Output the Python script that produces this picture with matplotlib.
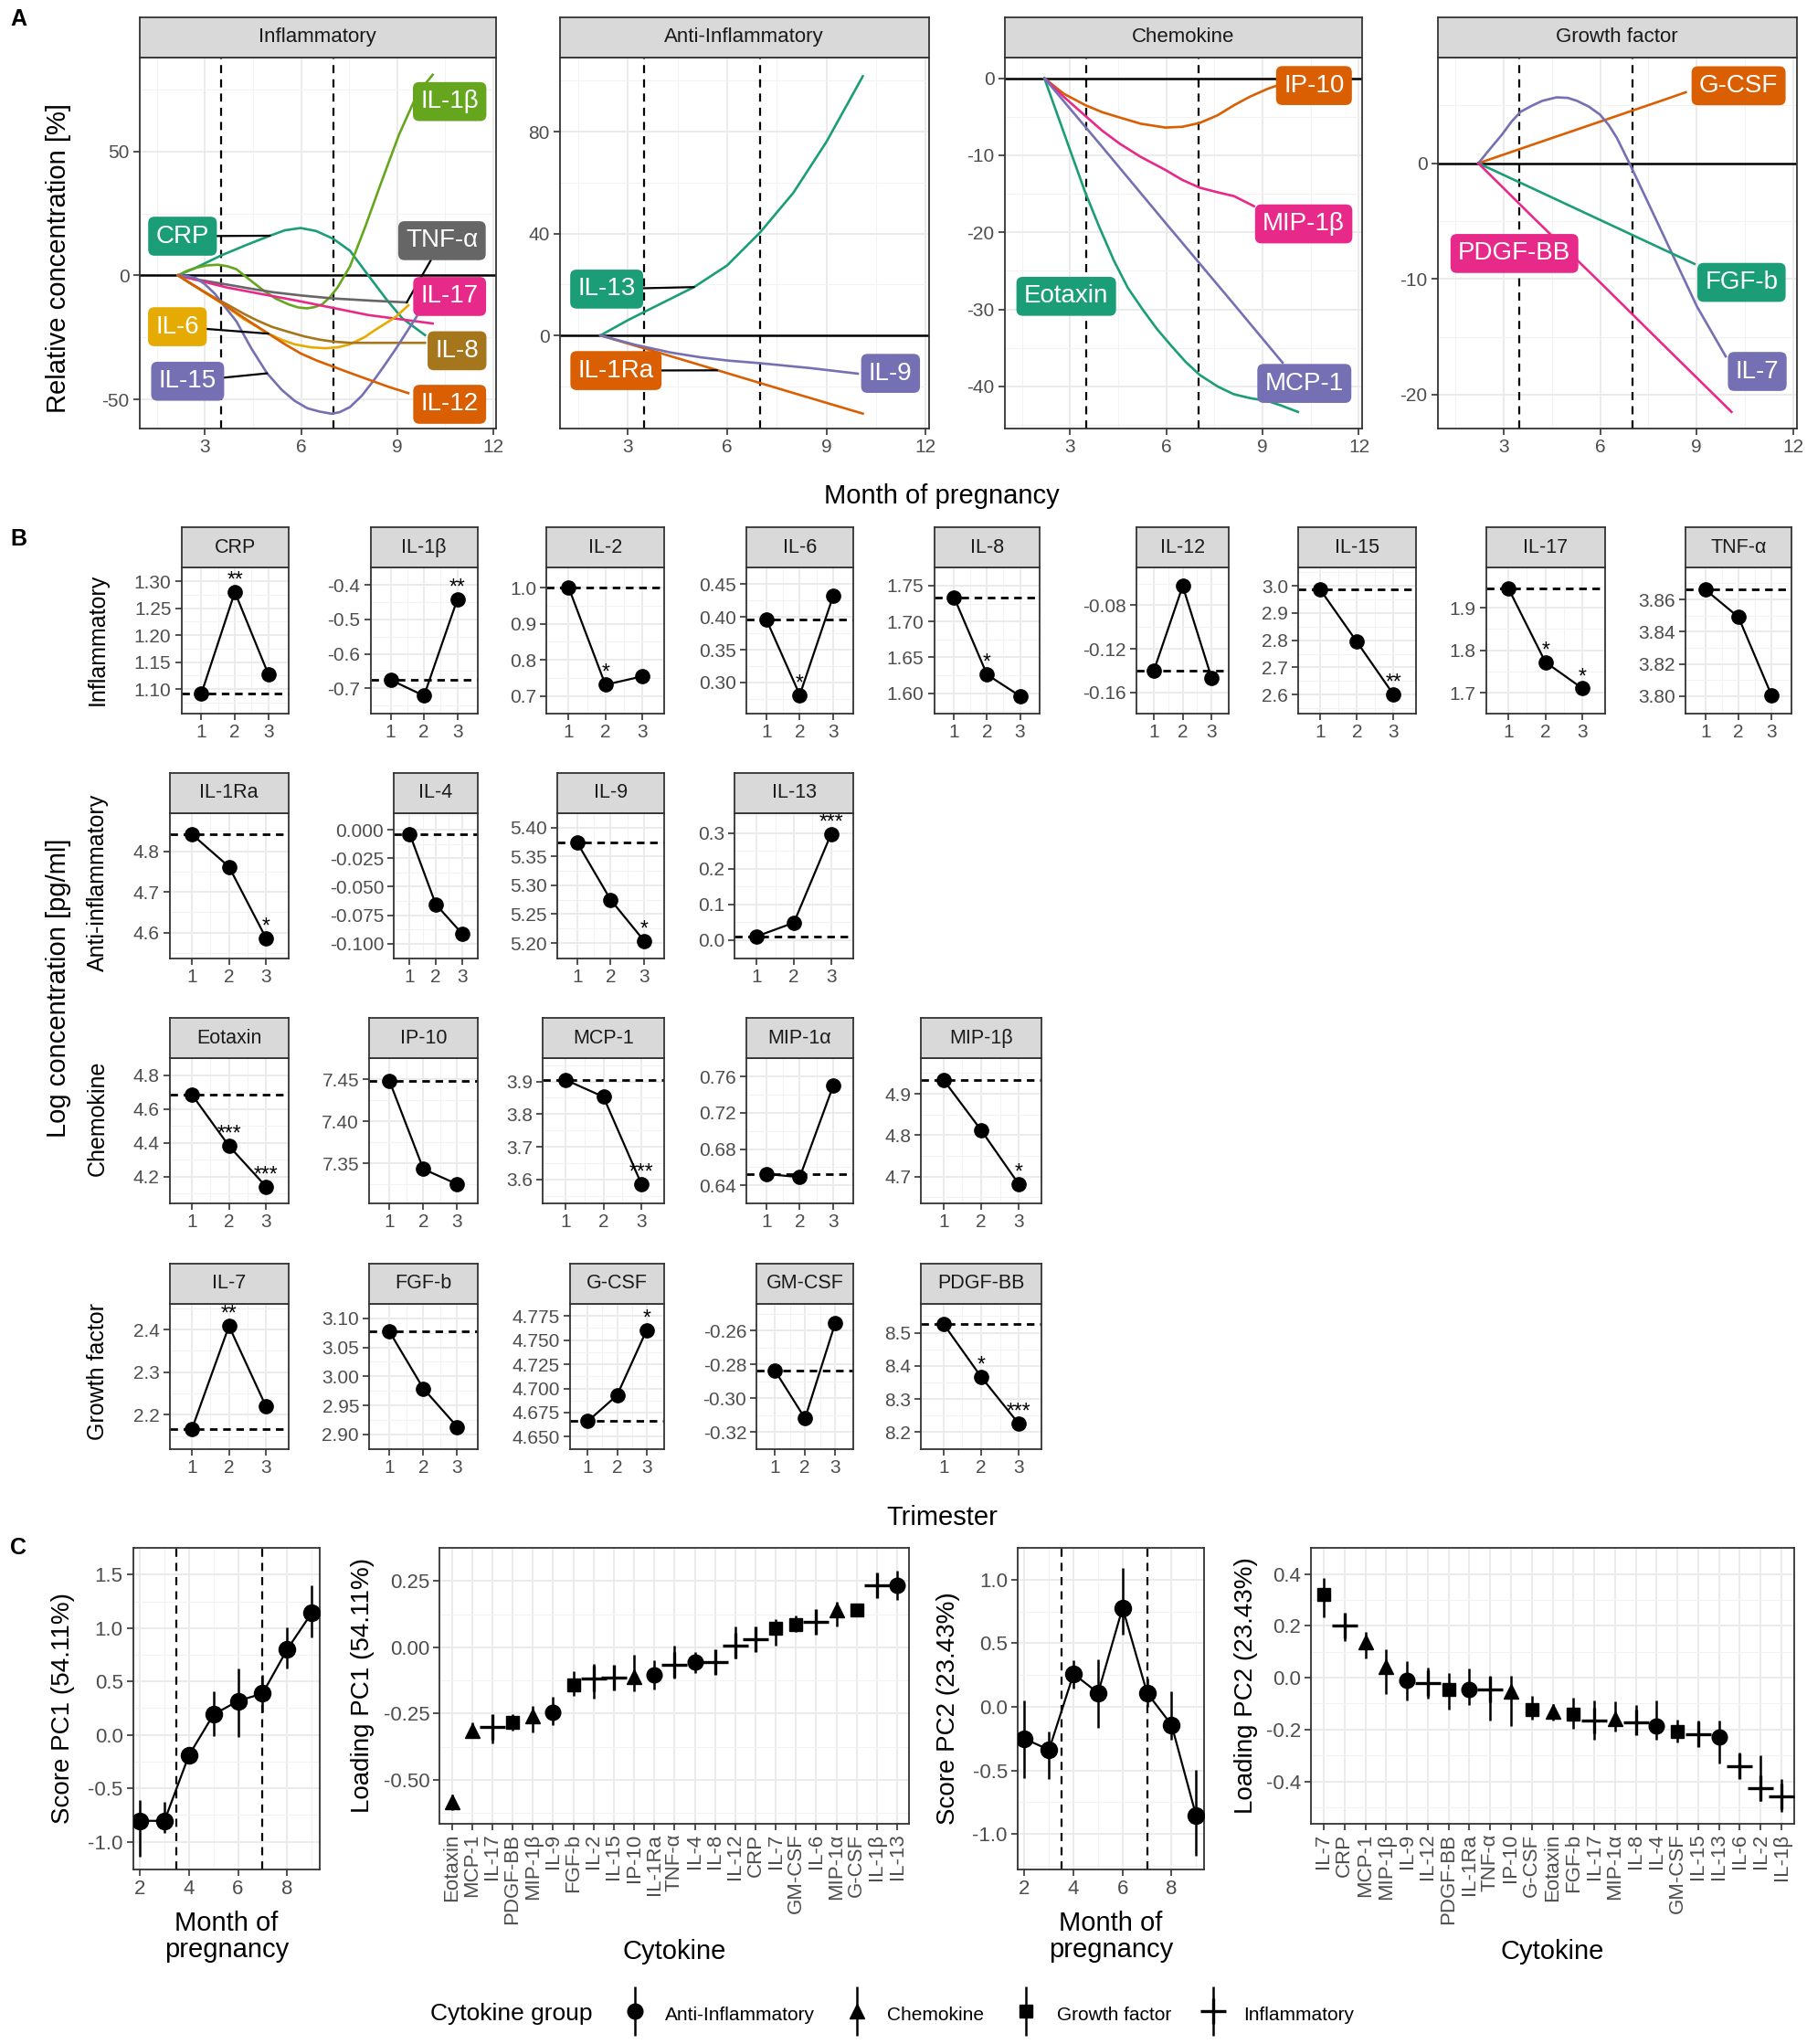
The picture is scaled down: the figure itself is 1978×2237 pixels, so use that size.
import matplotlib
matplotlib.use('Agg')
import matplotlib.pyplot as plt
from matplotlib.container import ErrorbarContainer
from matplotlib.legend_handler import HandlerErrorbar
import numpy as np

W, H = 1385.0, 1566.0
NARROW = ['Liberation Sans Narrow', 'Liberation Sans', 'DejaVu Sans']
WIDE = ['Liberation Sans', 'DejaVu Sans']
plt.rcParams['font.family'] = NARROW
plt.rcParams['axes.unicode_minus'] = False

TEAL, ORANGE, PURPLE, PINK = '#1B9E77', '#D95F02', '#7570B3', '#E7298A'
GREEN, YELLOW, BROWN, GREY = '#66A61E', '#E6AB02', '#A6761D', '#666666'
BORDER, TICKC = '#333333', '#4D4D4D'

# ---------------- panel A: smoothed relative concentration (%) ----------------
crp_m = [2.16, 2.7, 3.5, 4.3, 5.03, 5.5, 5.99, 6.47, 7.0, 7.53, 8.1, 8.68, 9.16, 9.87]
crp_v = [0, 3.0, 8.0, 12.3, 16.0, 18.2, 19.1, 17.9, 14.8, 9.9, 0, -9.9, -17.3, -24.1]
il1b_m = [2.16, 2.45, 2.73, 3.05, 3.4, 3.7, 3.98, 4.4, 4.84, 5.2, 5.61, 5.9, 6.18, 6.42, 6.66, 6.9,
          7.14, 7.53, 8.01, 8.49, 9.06, 9.64, 10.11]
il1b_v = [0, 1.9, 3.1, 4.0, 4.3, 3.7, 2.5, -1.8, -6.2, -9.3, -11.7, -12.9, -13.3, -12.8, -11.7, -8.8,
          -4.9, 3.7, 19.8, 37.0, 56.8, 73.5, 80.9]
tnfa_m = [2.16, 2.9, 3.69, 4.4, 5.13, 6.0, 7.0, 8.2, 9.3]
tnfa_v = [0, -2.0, -3.7, -5.3, -6.8, -8.1, -9.3, -10.2, -10.9]
il17_m = [2.16, 3.69, 5.99, 8.1, 10.11]
il17_v = [0, -4.9, -10.5, -16.0, -19.4]
il8_m = [2.16, 2.5, 2.92, 3.3, 3.69, 4.2, 4.65, 5.1, 5.61, 6.1, 6.57, 7.0, 7.53, 8.0, 9.87]
il8_v = [0, -2.9, -6.2, -9.0, -11.7, -15.4, -18.3, -20.8, -22.8, -24.6, -25.9, -26.7, -27.2, -27.2, -27.2]
il6_m = [2.16, 2.8, 3.5, 4.2, 4.98, 5.4, 5.8, 6.3, 6.76, 7.15, 7.53, 8.0, 8.29, 8.65, 8.96, 9.35]
il6_v = [0, -5.3, -11.1, -17.5, -23.5, -26.0, -27.8, -29.0, -29.4, -29.0, -27.8, -24.8, -22.2, -19.3,
         -16.7, -12.1]
il12_m = [2.16, 2.8, 3.5, 4.2, 4.98, 5.5, 5.99, 6.5, 7.0, 7.5, 8.1, 8.7, 9.35]
il12_v = [0, -5.2, -10.9, -17.0, -23.5, -27.8, -31.5, -34.4, -36.8, -39.2, -42.0, -44.8, -47.5]
il15_m = [2.16, 2.45, 2.73, 3.0, 3.31, 3.6, 3.98, 4.45, 4.94, 5.4, 5.8, 6.2, 6.57, 6.95, 7.2, 7.53,
          7.9, 8.29, 8.6, 8.96, 9.3, 9.64]
il15_v = [0, -0.3, -1.2, -3.6, -7.4, -12.3, -18.5, -29.5, -39.5, -46.2, -50.6, -53.6, -54.9, -55.8,
          -55.2, -53.1, -48.5, -42.0, -36.4, -29.6, -22.8, -16.0]

il13_m = [2.17, 3.0, 4.0, 5.0, 6.0, 7.0, 8.0, 9.0, 10.1]
il13_v = [0, 6.0, 12.5, 19.0, 27.5, 40.5, 56.0, 76.0, 101.8]
il1ra_m = [2.17, 4.0, 6.0, 8.0, 10.1]
il1ra_v = [0, -7.0, -14.8, -22.6, -30.7]
il9_m = [2.17, 3.2, 4.29, 5.2, 6.05, 7.0, 8.5, 9.95]
il9_v = [0, -3.6, -6.7, -8.6, -9.9, -10.9, -12.8, -15.0]

ip10_m = [2.2, 2.8, 3.48, 4.0, 4.55, 5.2, 5.97, 6.5, 7.04, 7.6, 8.11, 8.6, 9.17, 9.53]
ip10_v = [0, -2.0, -3.5, -4.4, -5.1, -5.9, -6.4, -6.3, -5.8, -4.8, -3.5, -2.4, -1.35, -0.84]
mip1b_m = [2.2, 2.8, 3.48, 4.0, 4.55, 5.2, 5.97, 6.5, 7.04, 7.6, 8.11, 8.73]
mip1b_v = [0, -2.4, -4.9, -6.8, -8.5, -10.2, -11.9, -13.2, -14.2, -14.8, -15.3, -16.6]
mcp1_m = [2.2, 4.0, 6.0, 8.0, 9.62]
mcp1_v = [0, -8.9, -18.9, -28.8, -36.9]
eotaxin_m = [2.2, 2.86, 3.48, 3.9, 4.37, 4.8, 5.26, 5.7, 6.15, 6.6, 7.04, 7.6, 8.1, 8.6, 9.17, 9.6, 10.1]
eotaxin_v = [0, -7.7, -14.9, -19.2, -23.7, -27.2, -30.0, -32.5, -34.7, -36.8, -38.5, -40.0, -41.0,
             -41.5, -41.9, -42.5, -43.3]

gcsf_m = [2.22, 4.0, 6.0, 8.0, 8.66]
gcsf_v = [0, 1.7, 3.6, 5.5, 6.14]
il7_m = [2.22, 2.6, 2.96, 3.25, 3.53, 3.9, 4.21, 4.65, 5.0, 5.28, 5.65, 6.0, 6.27, 6.52, 6.97, 7.59,
         8.3, 9.01, 9.9]
il7_v = [0, 1.3, 2.5, 3.6, 4.45, 5.0, 5.4, 5.7, 5.65, 5.4, 4.9, 4.2, 3.3, 2.2, -0.34, -4.0, -8.2,
         -12.4, -16.7]
fgfb_m = [2.22, 4.0, 6.0, 8.0, 8.93]
fgfb_v = [0, -2.3, -4.9, -7.5, -8.7]
pdgf_m = [2.22, 4.0, 6.0, 8.0, 10.08]
pdgf_v = [0, -4.9, -10.3, -15.8, -21.5]

# label positions (month, value) and connector targets (None = label sits on line)
a_facets = [
    ('Inflammatory', (0.96, 12.08), (-61.6, 87.9), [-50, 0, 50], [-25, 25, 75], [
        ('CRP', crp_m, crp_v, TEAL, (2.30, 15.8), (5.03, 16.0)),
        ('IL-1β', il1b_m, il1b_v, GREEN, (10.64, 70.1), None),
        ('TNF-α', tnfa_m, tnfa_v, GREY, (10.40, 14.0), (9.30, -10.9)),
        ('IL-17', il17_m, il17_v, PINK, (10.64, -8.5), None),
        ('IL-6', il6_m, il6_v, YELLOW, (2.14, -20.7), (4.98, -23.5)),
        ('IL-8', il8_m, il8_v, BROWN, (10.87, -30.4), None),
        ('IL-15', il15_m, il15_v, PURPLE, (2.46, -42.7), (4.94, -39.5)),
        ('IL-12', il12_m, il12_v, ORANGE, (10.64, -52.0), None)]),
    ('Anti-Inflammatory', (0.94, 12.1), (-36.4, 109.2), [0, 40, 80], [-20, 20, 60, 100], [
        ('IL-13', il13_m, il13_v, TEAL, (2.36, 18.2), (5.0, 19.0)),
        ('IL-1Ra', il1ra_m, il1ra_v, ORANGE, (2.64, -13.8), (5.7, -13.7)),
        ('IL-9', il9_m, il9_v, PURPLE, (10.94, -14.9), None)]),
    ('Chemokine', (0.96, 12.1), (-45.4, 2.7), [-40, -30, -20, -10, 0], [-45, -35, -25, -15, -5], [
        ('IP-10', ip10_m, ip10_v, ORANGE, (10.6, -0.95), None),
        ('MIP-1β', mip1b_m, mip1b_v, PINK, (10.28, -18.9), None),
        ('Eotaxin', eotaxin_m, eotaxin_v, TEAL, (2.88, -28.3), None),
        ('MCP-1', mcp1_m, mcp1_v, PURPLE, (10.3, -39.6), None)]),
    ('Growth factor', (0.96, 12.1), (-22.9, 9.15), [-20, -10, 0], [-15, -5, 5], [
        ('G-CSF', gcsf_m, gcsf_v, ORANGE, (10.3, 6.7), None),
        ('IL-7', il7_m, il7_v, PURPLE, (10.88, -18.0), None),
        ('FGF-b', fgfb_m, fgfb_v, TEAL, (10.39, -10.3), None),
        ('PDGF-BB', pdgf_m, pdgf_v, PINK, (3.34, -7.8), None)]),
]
a_boxes = [(107, 380), (429, 712), (770, 1044), (1102, 1377)]
a_month_ticks = [3, 6, 9, 12]

# ---------------- panel B: log concentration per trimester ----------------
trimester = [1, 2, 3]
b_names = [
    ['CRP', 'IL-1β', 'IL-2', 'IL-6', 'IL-8', 'IL-12', 'IL-15', 'IL-17', 'TNF-α'],
    ['IL-1Ra', 'IL-4', 'IL-9', 'IL-13'],
    ['Eotaxin', 'IP-10', 'MCP-1', 'MIP-1α', 'MIP-1β'],
    ['IL-7', 'FGF-b', 'G-CSF', 'GM-CSF', 'PDGF-BB'],
]
b_values = [
    [[1.092, 1.280, 1.128], [-0.676, -0.722, -0.441], [1.0, 0.731, 0.754], [0.396, 0.281, 0.432],
     [1.734, 1.626, 1.596], [-0.1404, -0.0623, -0.147], [2.986, 2.794, 2.600], [1.946, 1.772, 1.710],
     [3.866, 3.849, 3.8006]],
    [[4.842, 4.762, 4.586], [-0.0036, -0.0654, -0.0909], [5.374, 5.275, 5.204], [0.011, 0.049, 0.297]],
    [[4.686, 4.381, 4.14], [7.448, 7.343, 7.325], [3.905, 3.853, 3.587], [0.6525, 0.649, 0.750],
     [4.933, 4.812, 4.682]],
    [[2.166, 2.408, 2.219], [3.077, 2.979, 2.913], [4.666, 4.693, 4.760], [-0.2835, -0.312, -0.2556],
     [8.526, 8.367, 8.226]],
]
b_stars = [
    [['', '**', ''], ['', '', '**'], ['', '*', ''], ['', '*', ''], ['', '*', ''], ['', '', ''],
     ['', '', '**'], ['', '*', '*'], ['', '', '']],
    [['', '', '*'], ['', '', ''], ['', '', '*'], ['', '', '***']],
    [['', '***', '***'], ['', '', ''], ['', '', '***'], ['', '', ''], ['', '', '*']],
    [['', '**', ''], ['', '', ''], ['', '', '*'], ['', '', ''], ['', '*', '***']],
]
b_ticks = [
    [['1.10', '1.15', '1.20', '1.25', '1.30'], ['-0.7', '-0.6', '-0.5', '-0.4'], ['0.7', '0.8', '0.9', '1.0'],
     ['0.30', '0.35', '0.40', '0.45'], ['1.60', '1.65', '1.70', '1.75'], ['-0.16', '-0.12', '-0.08'],
     ['2.6', '2.7', '2.8', '2.9', '3.0'], ['1.7', '1.8', '1.9'], ['3.80', '3.82', '3.84', '3.86']],
    [['4.6', '4.7', '4.8'], ['-0.100', '-0.075', '-0.050', '-0.025', '0.000'],
     ['5.20', '5.25', '5.30', '5.35', '5.40'], ['0.0', '0.1', '0.2', '0.3']],
    [['4.2', '4.4', '4.6', '4.8'], ['7.35', '7.40', '7.45'], ['3.6', '3.7', '3.8', '3.9'],
     ['0.64', '0.68', '0.72', '0.76'], ['4.7', '4.8', '4.9']],
    [['2.2', '2.3', '2.4'], ['2.90', '2.95', '3.00', '3.05', '3.10'],
     ['4.650', '4.675', '4.700', '4.725', '4.750', '4.775'], ['-0.32', '-0.30', '-0.28', '-0.26'],
     ['8.2', '8.3', '8.4', '8.5']],
]
b_ylims = [
    [(1.054, 1.318), (-0.775, -0.384), (0.68, 1.055), (0.252, 0.462), (1.571, 1.763), (-0.1626, -0.0455),
     (2.529, 3.066), (1.667, 1.994), (3.789, 3.8796)],
    [(4.537, 4.894), (-0.1077, 0.0145), (5.174, 5.410), (-0.043, 0.356)],
    [(4.04, 4.81), (7.302, 7.473), (3.527, 3.970), (0.6294, 0.771), (4.635, 4.985)],
    [(2.12, 2.46), (2.882, 3.110), (4.648, 4.779), (-0.3226, -0.2441), (8.170, 8.587)],
]
b_rows_y = [(404, 435, 547), (592, 623, 734), (780, 811, 922), (968, 999, 1110)]
b_cols_x = [
    [(139, 221), (284, 366), (419, 509), (572, 654), (716, 797), (871, 942), (995, 1085), (1139, 1230), (1292, 1373)],
    [(130, 221), (302, 366), (427, 509), (563, 654)],
    [(130, 221), (283, 366), (416, 509), (572, 654), (706, 798)],
    [(130, 221), (283, 366), (437, 509), (580, 654), (706, 798)],
]
b_row_titles = ['Inflammatory', 'Anti-inflammatory', 'Chemokine', 'Growth factor']

# ---------------- panel C: PCA ----------------
months = [2, 3, 4, 5, 6, 7, 8, 9]
pc1_score = [-0.805, -0.805, -0.19, 0.19, 0.318, 0.387, 0.798, 1.14]
pc1_lo = [-1.14, -0.92, -0.25, -0.01, -0.017, 0.215, 0.62, 0.917]
pc1_hi = [-0.61, -0.63, -0.13, 0.41, 0.62, 0.565, 1.01, 1.40]
pc2_score = [-0.252, -0.338, 0.26, 0.109, 0.779, 0.109, -0.143, -0.857]
pc2_lo = [-0.558, -0.571, 0.143, -0.164, 0.571, 0.0, -0.26, -1.169]
pc2_hi = [0.052, -0.195, 0.364, 0.377, 1.096, 0.221, 0.122, -0.494]

pc1_cyto = ['Eotaxin', 'MCP-1', 'IL-17', 'PDGF-BB', 'MIP-1β', 'IL-9', 'FGF-b', 'IL-2', 'IL-15', 'IP-10',
            'IL-1Ra', 'TNF-α', 'IL-4', 'IL-8', 'IL-12', 'CRP', 'IL-7', 'GM-CSF', 'IL-6', 'MIP-1α',
            'G-CSF', 'IL-1β', 'IL-13']
pc1_load = [-0.585, -0.316, -0.301, -0.283, -0.258, -0.246, -0.143, -0.119, -0.115, -0.110, -0.103,
            -0.067, -0.056, -0.055, 0.008, 0.029, 0.072, 0.085, 0.097, 0.142, 0.142, 0.235, 0.235]
pc1_load_lo = [-0.615, -0.337, -0.362, -0.313, -0.323, -0.295, -0.183, -0.192, -0.158, -0.167, -0.158,
               -0.117, -0.098, -0.098, -0.042, -0.010, 0.008, 0.059, 0.057, 0.079, 0.118, 0.193, 0.178]
pc1_load_hi = [-0.555, -0.283, -0.258, -0.252, -0.222, -0.186, -0.091, -0.064, -0.080, -0.028, -0.049,
               0.005, -0.019, -0.010, 0.078, 0.067, 0.106, 0.121, 0.136, 0.172, 0.163, 0.279, 0.288]

pc2_cyto = ['IL-7', 'CRP', 'MCP-1', 'MIP-1β', 'IL-9', 'IL-12', 'PDGF-BB', 'IL-1Ra', 'TNF-α', 'IP-10',
            'G-CSF', 'Eotaxin', 'FGF-b', 'IL-17', 'MIP-1α', 'IL-8', 'IL-4', 'GM-CSF', 'IL-15', 'IL-13',
            'IL-6', 'IL-2', 'IL-1β']
pc2_load = [0.320, 0.202, 0.137, 0.042, -0.012, -0.021, -0.045, -0.046, -0.046, -0.052, -0.124, -0.130,
            -0.139, -0.166, -0.157, -0.172, -0.187, -0.208, -0.218, -0.230, -0.342, -0.425, -0.459]
pc2_load_lo = [0.232, 0.141, 0.076, -0.064, -0.088, -0.082, -0.124, -0.106, -0.167, -0.185, -0.163,
               -0.167, -0.196, -0.238, -0.209, -0.211, -0.239, -0.251, -0.257, -0.330, -0.387, -0.475,
               -0.516]
pc2_load_hi = [0.383, 0.248, 0.175, 0.109, 0.064, 0.039, 0.018, 0.036, 0.006, 0.006, -0.070, -0.103,
               -0.076, -0.088, -0.093, -0.106, -0.088, -0.161, -0.167, -0.167, -0.290, -0.300, -0.390]

group_names = ['Anti-Inflammatory', 'Chemokine', 'Growth factor', 'Inflammatory']
group_members = [
    ['IL-1Ra', 'IL-4', 'IL-9', 'IL-13'],
    ['Eotaxin', 'IP-10', 'MCP-1', 'MIP-1α', 'MIP-1β'],
    ['IL-7', 'FGF-b', 'G-CSF', 'GM-CSF', 'PDGF-BB'],
    ['CRP', 'IL-1β', 'IL-2', 'IL-6', 'IL-8', 'IL-12', 'IL-15', 'IL-17', 'TNF-α'],
]
group_markers = ['o', '^', 's', '+']
group_msize = [12, 12, 10, 20]


def rect(x0, y0, x1, y1):
    return [x0 / W, 1 - y1 / H, (x1 - x0) / W, (y1 - y0) / H]


def style(ax, fs=15):
    for s in ax.spines.values():
        s.set_color(BORDER)
        s.set_linewidth(1.3)
    ax.set_facecolor('white')
    ax.tick_params(which='major', length=5, width=1.2, color=BORDER, labelcolor=TICKC, labelsize=fs, pad=3)
    ax.tick_params(which='minor', length=0)
    ax.grid(True, which='major', color='#EBEBEB', lw=1.4)
    ax.grid(True, which='minor', color='#F2F2F2', lw=0.8)
    ax.set_axisbelow(True)


def strip(x0, y0, x1, y1, label, fs=15.5):
    s = fig.add_axes(rect(x0, y0, x1, y1))
    s.set_facecolor('#D9D9D9')
    s.set_xticks([])
    s.set_yticks([])
    for sp in s.spines.values():
        sp.set_color(BORDER)
        sp.set_linewidth(1.3)
    s.text(0.5, 0.5, label, ha='center', va='center', fontsize=fs, color='#1A1A1A', transform=s.transAxes)


fig = plt.figure(figsize=(19.78, 22.37), dpi=100)

# ---------------- A ----------------
for (title, xl, yl, yt, ymin, curves), (x0, x1) in zip(a_facets, a_boxes):
    ax = fig.add_axes(rect(x0, 44, x1, 328))
    style(ax)
    strip(x0, 13, x1, 44, title, 16)
    ax.set_xlim(*xl)
    ax.set_ylim(*yl)
    ax.set_xticks(a_month_ticks)
    ax.set_xticks([1.5, 4.5, 7.5, 10.5], minor=True)
    ax.set_yticks(yt)
    ax.set_yticks(ymin, minor=True)
    ax.axhline(0, color='black', lw=1.8, zorder=1.5)
    for v in (3.5, 7):
        ax.axvline(v, color='black', lw=1.6, ls=(0, (4, 3)), zorder=1.5)
    for name, m, v, col, lab, tgt in curves:
        ax.plot(m, v, color=col, lw=1.9, zorder=2, solid_joinstyle='round')
    for name, m, v, col, lab, tgt in curves:
        box = dict(boxstyle='round,pad=0.3,rounding_size=0.25', fc=col, ec='none')
        if tgt is None:
            ax.text(lab[0], lab[1], name, color='white', fontsize=20, ha='center', va='center',
                    bbox=box, zorder=4, clip_on=False)
        else:
            ax.annotate(name, xy=tgt, xytext=lab, color='white', fontsize=20, ha='center', va='center',
                        bbox=box, zorder=4, annotation_clip=False,
                        arrowprops=dict(arrowstyle='-', color='black', lw=1.6, shrinkA=0, shrinkB=0))

fig.text(8 / W, 1 - 15 / H, 'A', fontsize=18, fontweight='bold', family=WIDE, va='center')
fig.text(45 / W, 1 - 198 / H, 'Relative concentration [%]', rotation=90, fontsize=21, family=WIDE,
         ha='center', va='center')
fig.text(722 / W, 1 - 380 / H, 'Month of pregnancy', fontsize=21, ha='center', va='center')

# ---------------- B ----------------
for r in range(4):
    sy0, py0, py1 = b_rows_y[r]
    for c, name in enumerate(b_names[r]):
        x0, x1 = b_cols_x[r][c]
        ax = fig.add_axes(rect(x0, py0, x1, py1))
        style(ax)
        strip(x0, sy0, x1, py0, name)
        vals = b_values[r][c]
        ticks = [float(t) for t in b_ticks[r][c]]
        step = ticks[1] - ticks[0]
        ax.set_xlim(0.4, 3.6)
        ax.set_ylim(*b_ylims[r][c])
        ax.set_xticks(trimester)
        ax.set_xticks([1.5, 2.5], minor=True)
        ax.set_yticks(ticks)
        ax.set_yticklabels(b_ticks[r][c])
        ax.set_yticks([ticks[0] - step / 2] + [t + step / 2 for t in ticks], minor=True)
        ax.axhline(vals[0], color='black', lw=2.0, ls=(0, (3, 2.2)), zorder=1.5)
        ax.plot(trimester, vals, color='black', lw=1.6, marker='o', ms=11, zorder=3)
        for t, v, s in zip(trimester, vals, b_stars[r][c]):
            if s:
                ax.annotate(s, xy=(t, v), xytext=(0, 1), textcoords='offset points', ha='center',
                            va='bottom', fontsize=16.5, zorder=4, annotation_clip=False)

for title, yc in zip(b_row_titles, [490, 676, 857, 1051]):
    fig.text(75 / W, 1 - yc / H, title, rotation=90, fontsize=18, family=WIDE, ha='center', va='center')
fig.text(8 / W, 1 - 413 / H, 'B', fontsize=18, fontweight='bold', family=WIDE, va='center')
fig.text(45 / W, 1 - 757 / H, 'Log concentration [pg/ml]', rotation=90, fontsize=21, family=WIDE,
         ha='center', va='center')
fig.text(722 / W, 1 - 1163 / H, 'Trimester', fontsize=21, ha='center', va='center')

# ---------------- C ----------------
fig.text(8 / W, 1 - 1186 / H, 'C', fontsize=18, fontweight='bold', family=WIDE, va='center')


def score_panel(x0, x1, score, lo, hi, ylim, yt, ylabel, ylab_x):
    ax = fig.add_axes(rect(x0, 1186, x1, 1432))
    style(ax, 16)
    ax.set_xlim(1.72, 9.33)
    ax.set_ylim(*ylim)
    ax.set_xticks([2, 4, 6, 8])
    ax.set_xticks([3, 5, 7, 9], minor=True)
    ax.set_yticks(yt)
    ax.set_yticks([t + 0.25 for t in yt] + [yt[0] - 0.25], minor=True)
    for v in (3.5, 7):
        ax.axvline(v, color='black', lw=1.6, ls=(0, (4, 3)), zorder=1.5)
    err = [np.subtract(score, lo), np.subtract(hi, score)]
    ax.errorbar(months, score, yerr=err, color='black', lw=1.6, elinewidth=1.8, marker='o', ms=13,
                capsize=0, zorder=3)
    fig.text(ylab_x / W, 1 - 1309 / H, ylabel, rotation=90, fontsize=20, family=WIDE,
             ha='center', va='center')
    fig.text((x0 + x1) / 2 / W, 1 - 1484 / H, 'Month of\npregnancy', fontsize=21, ha='center',
             va='center', linespacing=1.05)


def loading_panel(x0, x1, cyto, load, lo, hi, ylim, yt, ytl, ylabel, ylab_x):
    ax = fig.add_axes(rect(x0, 1186, x1, 1397))
    style(ax, 16)
    pos = np.arange(1, len(cyto) + 1)
    ax.set_xlim(0.4, len(cyto) + 0.6)
    ax.set_ylim(*ylim)
    ax.set_xticks(pos)
    ax.set_xticklabels(cyto, rotation=90, family=WIDE, fontsize=16)
    ax.set_yticks(yt)
    ax.set_yticklabels(ytl)
    st = yt[1] - yt[0]
    ax.set_yticks([yt[0] - st / 2] + [t + st / 2 for t in yt], minor=True)
    handles = []
    for g, mk, ms in zip(group_names, group_markers, group_msize):
        members = group_members[group_names.index(g)]
        idx = [i for i, c in enumerate(cyto) if c in members]
        y = np.array(load)[idx]
        e = [y - np.array(lo)[idx], np.array(hi)[idx] - y]
        h = ax.errorbar(pos[idx], y, yerr=e, fmt=mk, color='black', ms=ms, mew=2.4 if mk == '+' else 1,
                        elinewidth=1.8, capsize=0, zorder=3, label=g)
        handles.append(h)
    fig.text(ylab_x / W, 1 - 1291 / H, ylabel, rotation=90, fontsize=20, family=WIDE,
             ha='center', va='center')
    fig.text((x0 + x1) / 2 / W, 1 - 1495 / H, 'Cytokine', fontsize=21, ha='center', va='center')
    return handles


score_panel(102, 245, pc1_score, pc1_lo, pc1_hi, (-1.257, 1.517), [-1.0, -0.5, 0.0, 0.5, 1.0, 1.5],
            'Score PC1 (54.11%)', 48)
leg_handles = loading_panel(337, 697, pc1_cyto, pc1_load, pc1_load_lo, pc1_load_hi, (-0.665, 0.329),
                            [-0.5, -0.25, 0.0, 0.25], ['-0.50', '-0.25', '0.00', '0.25'],
                            'Loading PC1 (54.11%)', 278)
score_panel(780, 923, pc2_score, pc2_lo, pc2_hi, (-1.277, 1.203), [-1.0, -0.5, 0.0, 0.5, 1.0],
            'Score PC2 (23.43%)', 727)
loading_panel(1005, 1375, pc2_cyto, pc2_load, pc2_load_lo, pc2_load_hi, (-0.562, 0.425),
              [-0.4, -0.2, 0.0, 0.2, 0.4], ['-0.4', '-0.2', '0.0', '0.2', '0.4'],
              'Loading PC2 (23.43%)', 955)

fig.text(330 / W, 1 - 1543 / H, 'Cytokine group', fontsize=19, ha='left', va='center')
fig.legend(leg_handles, group_names, loc='center left', bbox_to_anchor=(472 / W, 1 - 1543 / H),
           ncol=4, frameon=False, fontsize=15, handlelength=1.2, handletextpad=1.0, columnspacing=1.6,
           borderaxespad=0, handleheight=1.6,
           handler_map={ErrorbarContainer: HandlerErrorbar(xerr_size=0.5, yerr_size=1.3)})

fig.savefig('out.png', dpi=100)
